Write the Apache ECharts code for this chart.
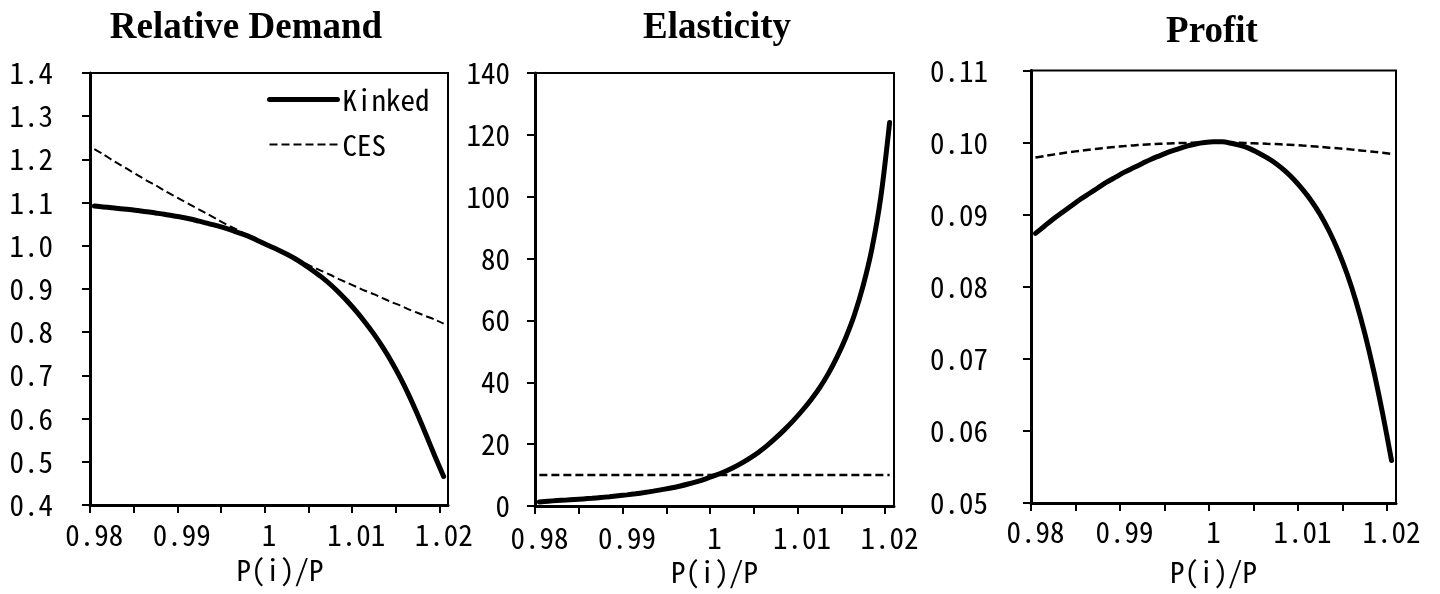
<!DOCTYPE html>
<html>
<head>
<meta charset="utf-8">
<script src="https://cdn.jsdelivr.net/npm/echarts@6/dist/echarts.min.js"></script>
<style>
html,body{margin:0;padding:0;background:#fff;}
#chart{width:1440px;height:594px;}
</style>
</head>
<body>
<div id="chart"></div>
<script>
// ---- data ----
const priceRatio = [0.98,0.981,0.982,0.983,0.984,0.985,0.986,0.987,0.988,0.989,
  0.99,0.991,0.992,0.993,0.994,0.995,0.996,0.997,0.998,0.999,
  1,1.001,1.002,1.003,1.004,1.005,1.006,1.007,1.008,1.009,
  1.01,1.011,1.012,1.013,1.014,1.015,1.016,1.017,1.018,1.019,1.02];

const demandKinked = [1.092,1.090,1.088,1.086,1.084,1.0815,1.079,1.076,1.073,1.0695,
  1.066,1.062,1.057,1.052,1.0465,1.041,1.034,1.027,1.019,1.0095,
  1.000,0.991,0.981,0.970,0.957,0.943,0.928,0.911,0.892,0.871,
  0.848,0.823,0.796,0.766,0.733,0.696,0.655,0.610,0.562,0.513,0.466];
const demandCES = [1.224,1.212,1.199,1.187,1.175,1.163,1.151,1.140,1.128,1.117,
  1.106,1.095,1.084,1.073,1.062,1.051,1.041,1.030,1.020,1.010,
  1.000,0.990,0.980,0.970,0.961,0.951,0.942,0.933,0.923,0.914,
  0.905,0.896,0.888,0.879,0.870,0.862,0.853,0.845,0.837,0.829,0.820];

const elasticityKinked = [1.3,1.55,1.75,1.9,2.1,2.3,2.5,2.75,3.0,3.3,
  3.6,3.95,4.35,4.8,5.3,5.8,6.4,7.1,7.9,8.8,
  9.8,10.9,12.2,13.7,15.4,17.3,19.5,22.0,24.7,27.6,
  30.8,34.3,38.2,42.8,48.2,54.5,62.0,71.5,83.5,100,124];
const elasticityCES = [10,10,10,10,10,10,10,10,10,10,
  10,10,10,10,10,10,10,10,10,10,
  10,10,10,10,10,10,10,10,10,10,
  10,10,10,10,10,10,10,10,10,10,10];

const profitKinked = [0.0874,0.0884,0.0894,0.0903,0.0912,0.0921,0.0929,0.0937,0.0945,0.0952,
  0.0959,0.0965,0.0971,0.0977,0.0982,0.0987,0.0991,0.0995,0.0998,0.1000,
  0.1001,0.1001,0.0999,0.0996,0.0992,0.0986,0.0979,0.0971,0.0961,0.0949,
  0.0935,0.0919,0.0900,0.0877,0.0850,0.0818,0.0780,0.0735,0.0683,0.0624,0.0559];
const profitCES = [0.09793,0.09813,0.09833,0.09852,0.09870,0.09886,0.09902,0.09916,0.09929,0.09941,
  0.09951,0.09961,0.09969,0.09976,0.09983,0.09988,0.09993,0.09996,0.09998,0.10000,
  0.10000,0.10000,0.09998,0.09996,0.09993,0.09989,0.09984,0.09979,0.09973,0.09966,
  0.09958,0.09950,0.09940,0.09930,0.09920,0.09910,0.09897,0.09885,0.09872,0.09859,0.09844];

const panelTitles = ['Relative Demand','Elasticity','Profit'];
const axisName = 'P(i)/P';

// ---- build options ----
const MONO = "'Noto Sans Mono CJK JP','DejaVu Sans Mono',monospace";
const FS = 29;
// half-category slots: data point k sits on slot 2k+1, tick marks on slots 0,10,...,80
const slots = [];
for (let i = 0; i <= 2 * priceRatio.length; i++) {
  slots.push(i % 2 === 1 ? String(priceRatio[(i - 1) / 2]) : '');
}
const toSeriesData = arr => arr.map((v, k) => [2 * k + 1, v]);

const grids = [
  {left: 90, top: 73, width: 358, height: 432},
  {left: 535, top: 73, width: 359, height: 433},
  {left: 1031, top: 70.5, width: 365, height: 432.5}
];
const xLabelMargin = [16, 18, 15];
const xNameGap = [51, 51, 55];
const xNamePad = [[0,0,0,22],[0,0,0,0],[0,0,0,0]];
const yCfg = [
  {min: 0.4, max: 1.4, interval: 0.1, margin: 37, fmt: v => v.toFixed(1)},
  {min: 0, max: 140, interval: 20, margin: 25, fmt: v => String(Math.round(v))},
  {min: 0.05, max: 0.11, interval: 0.01, margin: 43, fmt: v => v.toFixed(2)}
];
const titlePos = [{x: 246, y: 10}, {x: 717, y: 10}, {x: 1212, y: 14}];

const hiddenSymbol = {opacity: 0, color: 'rgba(0,0,0,0)', borderWidth: 0};

const option = {
  backgroundColor: '#fff',
  animation: false,
  title: panelTitles.map((t, i) => ({
    text: t, left: titlePos[i].x, top: titlePos[i].y, textAlign: 'center', padding: 0,
    textStyle: {fontFamily: "'Liberation Serif','Times New Roman',serif", fontWeight: 'bold',
      fontSize: 37, lineHeight: 37, color: '#000'}
  })),
  legend: {
    orient: 'vertical', left: 267, top: 85, padding: 0,
    itemWidth: 68, itemHeight: 28, itemGap: 16,
    textStyle: {fontFamily: MONO, fontSize: FS, lineHeight: 28, color: '#000'},
    data: [
      {name: 'Kinked', lineStyle: {width: 5}, itemStyle: hiddenSymbol},
      {name: 'CES', lineStyle: {width: 2}, itemStyle: hiddenSymbol}
    ],
    selectedMode: false
  },
  grid: grids.map(g => Object.assign({show: true, borderColor: '#000', borderWidth: 2, backgroundColor: 'transparent'}, g)),
  xAxis: grids.map((g, i) => ({
    type: 'category', gridIndex: i, data: slots, boundaryGap: false,
    axisLine: {show: true, lineStyle: {color: '#000', width: 3}},
    axisTick: {show: true, interval: 9, length: 8, lineStyle: {color: '#000', width: 2}},
    axisLabel: {interval: idx => idx % 20 === 1, margin: xLabelMargin[i], color: '#000',
      fontFamily: MONO, fontSize: FS, lineHeight: 28},
    splitLine: {show: false},
    name: axisName, nameLocation: 'middle', nameGap: xNameGap[i],
    nameTextStyle: {fontFamily: MONO, fontSize: FS, lineHeight: 28, color: '#000', padding: xNamePad[i]}
  })),
  yAxis: yCfg.map((c, i) => ({
    type: 'value', gridIndex: i, min: c.min, max: c.max, interval: c.interval,
    axisLine: {show: true, lineStyle: {color: '#000', width: 3}},
    axisTick: {show: true, length: 8, lineStyle: {color: '#000', width: 2}},
    axisLabel: {margin: c.margin, color: '#000', fontFamily: MONO, fontSize: FS, lineHeight: 28, formatter: c.fmt},
    splitLine: {show: false}
  })),
  series: [
    {name: 'CES', type: 'line', xAxisIndex: 0, yAxisIndex: 0, data: toSeriesData(demandCES),
      symbol: 'none', smooth: 0.3, lineStyle: {color: '#000', width: 2, type: [8, 4]}, itemStyle: {color: '#000'}},
    {name: 'Kinked', type: 'line', xAxisIndex: 0, yAxisIndex: 0, data: toSeriesData(demandKinked),
      symbol: 'none', smooth: 0.3, lineStyle: {color: '#000', width: 5, cap: 'round'}, itemStyle: {color: '#000'}},
    {name: 'CES', type: 'line', xAxisIndex: 1, yAxisIndex: 1, data: toSeriesData(elasticityCES),
      symbol: 'none', lineStyle: {color: '#000', width: 2.5, type: [8, 4]}, itemStyle: {color: '#000'}},
    {name: 'Kinked', type: 'line', xAxisIndex: 1, yAxisIndex: 1, data: toSeriesData(elasticityKinked),
      symbol: 'none', smooth: 0.3, lineStyle: {color: '#000', width: 5, cap: 'round'}, itemStyle: {color: '#000'}},
    {name: 'CES', type: 'line', xAxisIndex: 2, yAxisIndex: 2, data: toSeriesData(profitCES),
      symbol: 'none', smooth: 0.3, lineStyle: {color: '#000', width: 2.5, type: [8, 4]}, itemStyle: {color: '#000'}},
    {name: 'Kinked', type: 'line', xAxisIndex: 2, yAxisIndex: 2, data: toSeriesData(profitKinked),
      symbol: 'none', smooth: 0.3, lineStyle: {color: '#000', width: 5, cap: 'round'}, itemStyle: {color: '#000'}}
  ]
};

const chart = echarts.init(document.getElementById('chart'), null, {renderer: 'canvas'});
chart.setOption(option);
</script>
</body>
</html>
